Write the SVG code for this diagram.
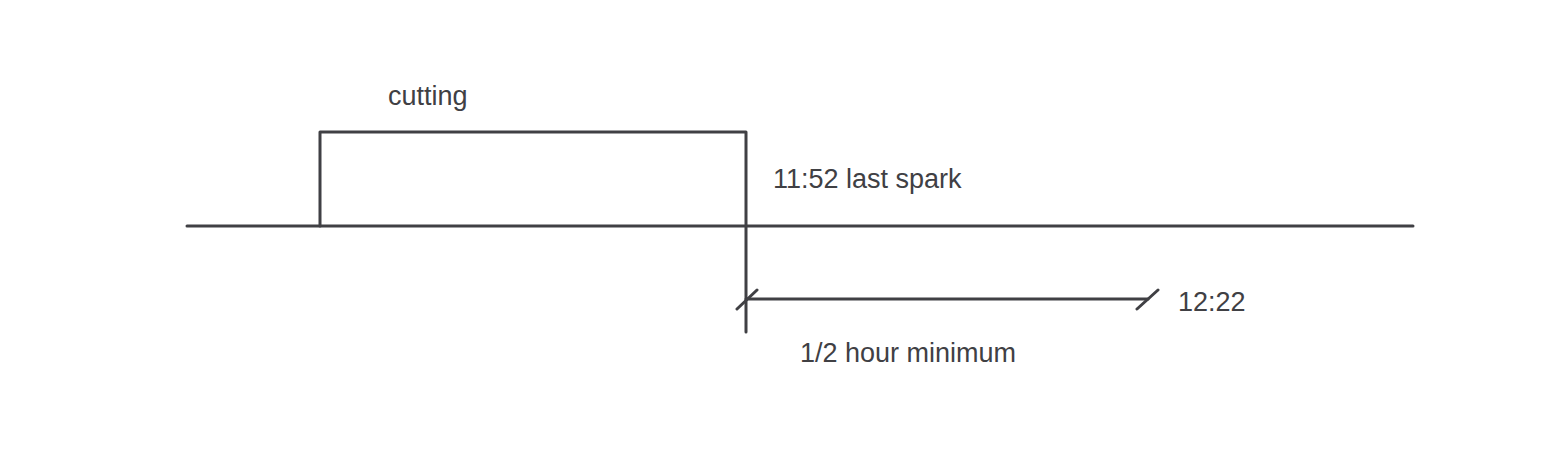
<svg xmlns="http://www.w3.org/2000/svg" width="1547" height="453" viewBox="0 0 1547 453">
<style>
.l{stroke:#404044;stroke-width:3;fill:none;stroke-linecap:round;stroke-linejoin:round}
.t{font-family:"Comic Sans MS","Liberation Sans",sans-serif;font-size:27px;fill:#404044}
</style>
<rect width="1547" height="453" fill="#fff"/>
<g id="connectors">
<path class="l" d="M187 226H1413"/>
<path class="l" d="M320 226V132H746V332"/>
<path class="l" d="M746 299H1148"/>
<path class="l" d="M737 309L757 290M1137 309L1158 290"/>
</g>
<g id="cutting"><text class="t" x="388" y="105">cutting</text></g>
<g id="last"><text class="t" x="773" y="188">11:52 last spark</text></g>
<g id="end"><text class="t" x="1178" y="311">12:22</text></g>
<g id="min"><text class="t" x="800" y="362">1/2 hour minimum</text></g>
</svg>
